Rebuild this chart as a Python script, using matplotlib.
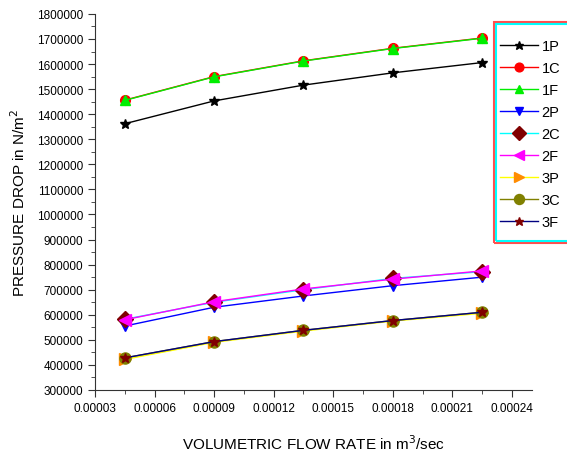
import matplotlib
matplotlib.use("Agg")
import matplotlib.pyplot as plt
from matplotlib.patches import Rectangle
from matplotlib.ticker import MultipleLocator, FormatStrFormatter

plt.rcParams["font.family"] = ["Liberation Sans", "DejaVu Sans"]

# flow rate (m3/sec)
vazao = [0.000045, 0.00009, 0.000135, 0.00018, 0.000225]

# pressure drop (N/m2)
p_1P = [1362000, 1453000, 1516000, 1565000, 1606000]
p_1C = [1456000, 1550000, 1613000, 1663000, 1704000]
p_1F = [1455000, 1549000, 1612000, 1662000, 1703000]
p_2P = [555000, 630000, 675000, 716000, 750000]
p_2C = [582000, 650000, 700000, 745000, 772000]
p_2F = [580000, 652000, 703000, 742000, 775000]
p_3P = [422000, 490000, 535000, 575000, 606000]
p_3C = [428000, 493000, 538000, 577000, 610000]
p_3F = [428000, 493000, 538000, 577000, 610000]

series = [
    ("1P", p_1P, "black", "*", "black", 7),
    ("1C", p_1C, "red", "o", "red", 7),
    ("1F", p_1F, "#00ee00", "^", "#00ee00", 7),
    ("2P", p_2P, "blue", "v", "blue", 7),
    ("2C", p_2C, "cyan", "D", "#800000", 8),
    ("2F", p_2F, "magenta", "<", "magenta", 8),
    ("3P", p_3P, "yellow", ">", "#ff8c00", 8),
    ("3C", p_3C, "#808000", "o", "#808000", 8),
    ("3F", p_3F, "#000080", "*", "#800000", 7),
]

fig = plt.figure(figsize=(5.67, 4.52), dpi=100)
ax = fig.add_axes([0.1675, 0.135, 0.7705, 0.832])

for nome, valores, cor, marca, cor_marca, tam in series:
    ax.plot(vazao, valores, color=cor, linewidth=1, marker=marca,
            markersize=tam, markerfacecolor=cor_marca,
            markeredgecolor=cor_marca, label=nome)

ax.set_xlim(0.00003, 0.00025)
ax.set_ylim(300000, 1800000)

ax.xaxis.set_major_locator(MultipleLocator(0.00003))
ax.xaxis.set_minor_locator(MultipleLocator(0.000015))
ax.xaxis.set_major_formatter(FormatStrFormatter("%.5f"))
ax.yaxis.set_major_locator(MultipleLocator(100000))
ax.yaxis.set_minor_locator(MultipleLocator(50000))
ax.yaxis.set_major_formatter(FormatStrFormatter("%d"))

ax.spines["top"].set_visible(False)
ax.spines["right"].set_visible(False)
ax.spines["left"].set_color("#333333")
ax.spines["bottom"].set_color("#333333")
ax.tick_params(which="major", direction="out", length=5, labelsize=8.5, colors="#333333")
ax.tick_params(which="minor", direction="out", length=3, colors="#333333")
for lbl in ax.get_xticklabels() + ax.get_yticklabels():
    lbl.set_color("black")

ax.set_xlabel("VOLUMETRIC FLOW RATE in m$^3$/sec", fontsize=11, labelpad=14)
ax.set_ylabel("PRESSURE DROP in N/m$^2$", fontsize=11, labelpad=6)

# caixa da legenda (vermelha por fora, ciano por dentro), cortada na direita
fig.patches.append(Rectangle((494 / 567, 1 - 244 / 452), 90 / 567, 221 / 452,
                             transform=fig.transFigure, fill=False,
                             edgecolor="#ff5050", linewidth=1.5))
fig.patches.append(Rectangle((496 / 567, 1 - 242 / 452), 90 / 567, 217 / 452,
                             transform=fig.transFigure, fill=False,
                             edgecolor="cyan", linewidth=1.5))

leg = fig.legend(loc="upper left", bbox_to_anchor=(500 / 567, 1 - 40 / 452),
                 fontsize=10.5, frameon=False, markerscale=0.9,
                 handlelength=2.6, handletextpad=0.25, labelspacing=0.55,
                 borderpad=0, borderaxespad=0)

fig.savefig("out.png", dpi=100)
